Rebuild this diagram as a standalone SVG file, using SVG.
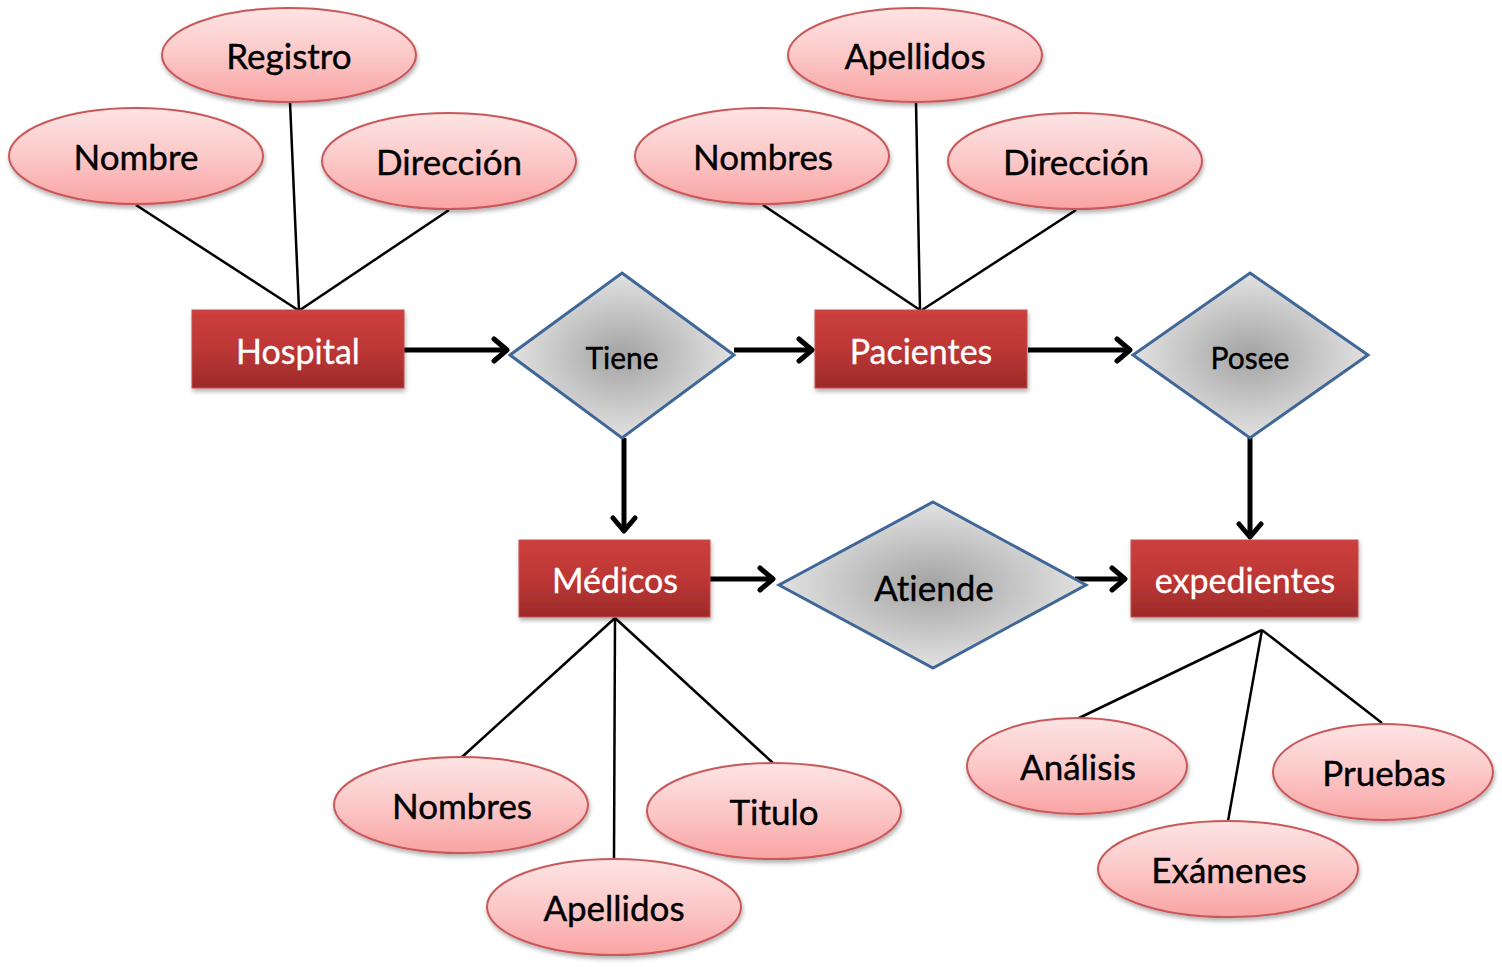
<svg xmlns="http://www.w3.org/2000/svg" width="1502" height="967" viewBox="0 0 1502 967">
<defs>
<linearGradient id="gEll" x1="0" y1="0" x2="0" y2="1"><stop offset="0" stop-color="#fde4e4"/><stop offset="0.5" stop-color="#fcc8c8"/><stop offset="1" stop-color="#f9a3a3"/></linearGradient>
<linearGradient id="gRect" x1="0" y1="0" x2="0" y2="1"><stop offset="0" stop-color="#cd3f3d"/><stop offset="0.5" stop-color="#bd3735"/><stop offset="1" stop-color="#9c2a2a"/></linearGradient>
<radialGradient id="gDia" cx="0.5" cy="0.5" r="0.5"><stop offset="0" stop-color="#a3a3a3"/><stop offset="1" stop-color="#e2e2e2"/></radialGradient>
<filter id="sh" x="-10%" y="-10%" width="125%" height="130%"><feDropShadow dx="1" dy="3" stdDeviation="2" flood-color="#000" flood-opacity="0.3"/></filter>
<marker id="arr" markerUnits="userSpaceOnUse" markerWidth="20" markerHeight="28" refX="17" refY="14" orient="auto"><path d="M4,3 L17,14 L4,25" fill="none" stroke="#000" stroke-width="5" stroke-linecap="round" stroke-linejoin="round"/></marker>
</defs>
<style>
text{font-variant-ligatures:none;font-feature-settings:"liga" 0,"clig" 0}
.ell{fill:url(#gEll);stroke:#c9585a;stroke-width:2;filter:url(#sh)}
.rect{fill:url(#gRect);stroke:#c0504d;stroke-width:1;filter:url(#sh)}
.dia{fill:url(#gDia);stroke:#3f6797;stroke-width:3}
.t{font-family:Lato,"Open Sans",sans-serif;font-size:35px;text-anchor:middle;dominant-baseline:central;fill:#000;stroke:#000;stroke-width:0.4}
.tw{font-family:Lato,"Open Sans",sans-serif;font-size:34px;text-anchor:middle;dominant-baseline:central;fill:#fff;stroke:#fff;stroke-width:0.3}
.td{font-family:Lato,"Open Sans",sans-serif;font-size:30px;text-anchor:middle;dominant-baseline:central;fill:#000;stroke:#000;stroke-width:0.4}
.ln{stroke:#000;stroke-width:2.5;fill:none}
.ar{stroke:#000;stroke-width:5;fill:none;marker-end:url(#arr)}
</style>
<rect width="1502" height="967" fill="#fff"/>
<g id="connectors">
<line class="ln" x1="136" y1="205" x2="298" y2="310"/>
<line class="ln" x1="290" y1="102" x2="299" y2="310"/>
<line class="ln" x1="449" y1="210" x2="300" y2="310"/>
<line class="ln" x1="763" y1="205" x2="920" y2="310"/>
<line class="ln" x1="916" y1="102" x2="920" y2="310"/>
<line class="ln" x1="1076" y1="210" x2="922" y2="310"/>
<line class="ln" x1="615" y1="618" x2="462" y2="757"/>
<line class="ln" x1="615" y1="618" x2="614" y2="859"/>
<line class="ln" x1="615" y1="618" x2="773" y2="763"/>
<line class="ln" x1="1262" y1="630" x2="1079" y2="718"/>
<line class="ln" x1="1262" y1="630" x2="1228" y2="821"/>
<line class="ln" x1="1262" y1="630" x2="1382" y2="723"/>
<line class="ar" x1="404" y1="350" x2="507" y2="350"/>
<line class="ar" x1="734" y1="350" x2="812" y2="350"/>
<line class="ar" x1="1028" y1="350" x2="1130" y2="350"/>
<line class="ar" x1="624" y1="438" x2="624" y2="531"/>
<line class="ar" x1="1250" y1="438" x2="1250" y2="537"/>
<line class="ar" x1="710" y1="579" x2="773" y2="579"/>
<line class="ar" x1="1075" y1="579" x2="1125" y2="579"/>
</g>
<g id="registro"><ellipse class="ell" cx="289" cy="55" rx="127" ry="47"/><text class="t" x="289" y="55">Registro</text></g>
<g id="nombre"><ellipse class="ell" cx="136" cy="156" rx="127" ry="48"/><text class="t" x="136" y="156">Nombre</text></g>
<g id="direccion-h"><ellipse class="ell" cx="449" cy="161" rx="127" ry="48"/><text class="t" x="449" y="161">Dirección</text></g>
<g id="apellidos-p"><ellipse class="ell" cx="915" cy="55" rx="127" ry="47"/><text class="t" x="915" y="55">Apellidos</text></g>
<g id="nombres-p"><ellipse class="ell" cx="762" cy="156" rx="127" ry="48"/><text class="t" x="763" y="156">Nombres</text></g>
<g id="direccion-p"><ellipse class="ell" cx="1075" cy="161" rx="127" ry="48"/><text class="t" x="1076" y="161">Dirección</text></g>
<g id="nombres-m"><ellipse class="ell" cx="461" cy="805" rx="127" ry="48"/><text class="t" x="462" y="805">Nombres</text></g>
<g id="titulo"><ellipse class="ell" cx="774" cy="811" rx="127" ry="48"/><text class="t" x="774" y="811">Titulo</text></g>
<g id="apellidos-m"><ellipse class="ell" cx="614" cy="907" rx="127" ry="48"/><text class="t" x="614" y="907">Apellidos</text></g>
<g id="analisis"><ellipse class="ell" cx="1077" cy="766" rx="110" ry="48"/><text class="t" x="1078" y="766">Análisis</text></g>
<g id="pruebas"><ellipse class="ell" cx="1383" cy="772" rx="110" ry="48"/><text class="t" x="1384" y="772">Pruebas</text></g>
<g id="examenes"><ellipse class="ell" cx="1228" cy="869" rx="130" ry="48"/><text class="t" x="1229" y="869">Exámenes</text></g>
<g id="hospital"><rect class="rect" x="192" y="310" width="212" height="78"/><text class="tw" x="298" y="350">Hospital</text></g>
<g id="pacientes"><rect class="rect" x="815" y="310" width="212" height="78"/><text class="tw" x="921" y="350">Pacientes</text></g>
<g id="medicos"><rect class="rect" x="519" y="540" width="191" height="77"/><text class="tw" x="615" y="579">Médicos</text></g>
<g id="expedientes"><rect class="rect" x="1131" y="540" width="227" height="77"/><text class="tw" x="1245" y="579">expedientes</text></g>
<g id="tiene"><polygon class="dia" points="622,273 734,355 622,438 510,355"/><text class="td" x="622" y="357">Tiene</text></g>
<g id="posee"><polygon class="dia" points="1250,273 1368,355 1250,438 1133,355"/><text class="td" x="1250" y="357">Posee</text></g>
<g id="atiende"><polygon class="dia" points="933,502 1086,585 933,668 779,585"/><text class="t" x="934" y="587">Atiende</text></g>
</svg>
